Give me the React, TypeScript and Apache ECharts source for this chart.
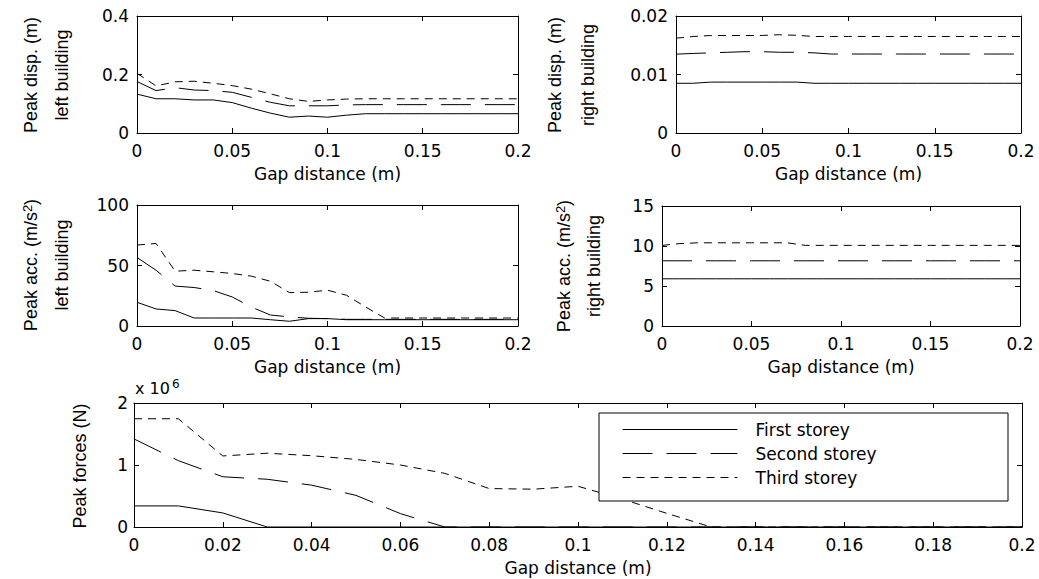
import React, { useEffect, useRef } from "react";
import * as echarts from "echarts";

// Gap distance (m)
const gap = [0, 0.01, 0.02, 0.03, 0.04, 0.05, 0.06, 0.07, 0.08, 0.09, 0.1, 0.11, 0.12, 0.13, 0.14, 0.15, 0.16, 0.17, 0.18, 0.19, 0.2];

const storeyNames = ["First storey", "Second storey", "Third storey"];

// Peak displacement, left building (m)
const dispLeft1 = [0.133, 0.117, 0.117, 0.113, 0.113, 0.104, 0.085, 0.068, 0.054, 0.058, 0.054, 0.061, 0.066, 0.066, 0.066, 0.066, 0.066, 0.066, 0.066, 0.066, 0.066];
const dispLeft2 = [0.176, 0.145, 0.155, 0.147, 0.145, 0.139, 0.122, 0.105, 0.093, 0.093, 0.093, 0.096, 0.097, 0.097, 0.097, 0.097, 0.097, 0.097, 0.097, 0.097, 0.097];
const dispLeft3 = [0.204, 0.161, 0.175, 0.177, 0.17, 0.162, 0.15, 0.134, 0.117, 0.108, 0.113, 0.116, 0.117, 0.117, 0.117, 0.117, 0.117, 0.117, 0.117, 0.117, 0.117];

// Peak displacement, right building (m)
const dispRight1 = [0.0085, 0.0085, 0.0087, 0.0087, 0.0087, 0.0087, 0.0087, 0.0087, 0.0085, 0.0085, 0.0085, 0.0085, 0.0085, 0.0085, 0.0085, 0.0085, 0.0085, 0.0085, 0.0085, 0.0085, 0.0085];
const dispRight2 = [0.01348, 0.0136, 0.0137, 0.0138, 0.0139, 0.0139, 0.0138, 0.0138, 0.0137, 0.0135, 0.0135, 0.0135, 0.0135, 0.0135, 0.0135, 0.0135, 0.0135, 0.0135, 0.0135, 0.0135, 0.0135];
const dispRight3 = [0.0162, 0.0165, 0.01666, 0.01666, 0.01666, 0.01668, 0.0168, 0.0167, 0.0165, 0.0165, 0.0165, 0.0165, 0.0165, 0.0165, 0.0165, 0.0165, 0.0165, 0.0165, 0.0165, 0.0165, 0.0165];

// Peak acceleration, left building (m/s^2)
const accLeft1 = [19.6, 14.1, 12.7, 6.6, 6.6, 6.6, 6.6, 5.2, 3.9, 6.1, 6.1, 5.2, 5.2, 5.2, 5.2, 5.2, 5.2, 5.2, 5.2, 5.2, 5.2];
const accLeft2 = [56.6, 46.1, 33, 31.8, 29.3, 24, 15.7, 9.1, 7.5, 6.4, 6.1, 5.5, 5.5, 5.5, 5.5, 5.5, 5.5, 5.5, 5.5, 5.5, 5.5];
const accLeft3 = [66.9, 68.2, 45.3, 46.1, 44.8, 43.4, 41.2, 37, 27.6, 27.9, 29.6, 25.4, 15.7, 6.6, 6.6, 6.6, 6.6, 6.6, 6.6, 6.6, 6.6];

// Peak acceleration, right building (m/s^2)
const accRight1 = [5.9, 5.9, 5.9, 5.9, 5.9, 5.9, 5.9, 5.9, 5.9, 5.9, 5.9, 5.9, 5.9, 5.9, 5.9, 5.9, 5.9, 5.9, 5.9, 5.9, 5.9];
const accRight2 = [8.15, 8.15, 8.15, 8.15, 8.15, 8.15, 8.15, 8.15, 8.15, 8.15, 8.15, 8.15, 8.15, 8.15, 8.15, 8.15, 8.15, 8.15, 8.15, 8.15, 8.15];
const accRight3 = [10.08, 10.3, 10.4, 10.4, 10.4, 10.4, 10.4, 10.4, 10.08, 10.08, 10.08, 10.08, 10.08, 10.08, 10.08, 10.08, 10.08, 10.08, 10.08, 10.08, 10.08];

// Peak pounding forces (N)
const force1 = [340000, 340000, 227000, 0, 0, 0, 0, 0, 0, 0, 0, 0, 0, 0, 0, 0, 0, 0, 0, 0, 0];
const force2 = [1420000, 1070000, 810000, 770000, 675000, 510000, 216000, 0, 0, 0, 0, 0, 0, 0, 0, 0, 0, 0, 0, 0, 0];
const force3 = [1746000, 1746000, 1146000, 1190000, 1150000, 1090000, 1000000, 865000, 620000, 610000, 657000, 450000, 220000, 0, 0, 0, 0, 0, 0, 0, 0];

const TICK_FONT = "DejaVu Sans";
const LABEL_FONT = "Liberation Sans";

const panels = [
  { grid: { left: 137, top: 16, width: 381, height: 117 }, xInterval: 0.05, yMax: 0.4, yInterval: 0.2, series: [dispLeft1, dispLeft2, dispLeft3], yFmt: null as any },
  { grid: { left: 676, top: 16, width: 345, height: 117 }, xInterval: 0.05, yMax: 0.02, yInterval: 0.01, series: [dispRight1, dispRight2, dispRight3], yFmt: null as any },
  { grid: { left: 137, top: 205, width: 381, height: 121 }, xInterval: 0.05, yMax: 100, yInterval: 50, series: [accLeft1, accLeft2, accLeft3], yFmt: null as any },
  { grid: { left: 662, top: 206, width: 358, height: 120 }, xInterval: 0.05, yMax: 15, yInterval: 5, series: [accRight1, accRight2, accRight3], yFmt: null as any },
  { grid: { left: 134, top: 403, width: 888, height: 124 }, xInterval: 0.02, yMax: 2000000, yInterval: 1000000, series: [force1, force2, force3], yFmt: (v: number) => String(v / 1000000) },
];

const lineTypes: any[] = ["solid", [30, 14], [8, 6]];

function buildOption() {
  const axisLine = { show: true, onZero: false, lineStyle: { color: "#000", width: 1 } };
  const axisTick = { show: true, inside: true, length: 5, lineStyle: { color: "#000", width: 1 } };
  const grid: any[] = [];
  const xAxis: any[] = [];
  const yAxis: any[] = [];
  const series: any[] = [];
  panels.forEach((p, i) => {
    grid.push({ ...p.grid, containLabel: false });
    xAxis.push({
      type: "value", gridIndex: i, position: "bottom", min: 0, max: 0.2, interval: p.xInterval,
      axisLine, axisTick, splitLine: { show: false },
      axisLabel: { color: "#000", fontFamily: TICK_FONT, fontSize: 17, margin: 9 },
      name: "Gap distance (m)", nameLocation: "middle", nameGap: 32,
      nameTextStyle: { color: "#000", fontFamily: TICK_FONT, fontSize: 17 },
    });
    xAxis.push({
      type: "value", gridIndex: i, position: "top", min: 0, max: 0.2, interval: p.xInterval,
      axisLine, axisTick, splitLine: { show: false }, axisLabel: { show: false },
    });
    yAxis.push({
      type: "value", gridIndex: i, position: "left", min: 0, max: p.yMax, interval: p.yInterval,
      axisLine, axisTick, splitLine: { show: false },
      axisLabel: { color: "#000", fontFamily: TICK_FONT, fontSize: 17, margin: i === 4 ? 6 : 8, formatter: p.yFmt || undefined },
    });
    yAxis.push({
      type: "value", gridIndex: i, position: "right", min: 0, max: p.yMax, interval: p.yInterval,
      axisLine, axisTick, splitLine: { show: false }, axisLabel: { show: false },
    });
    p.series.forEach((vals, k) => {
      series.push({
        type: "line", name: storeyNames[k], xAxisIndex: 2 * i, yAxisIndex: 2 * i,
        data: gap.map((x, j) => [x, vals[j]]),
        symbol: "none", silent: true,
        lineStyle: { color: "#000", width: 1, type: lineTypes[k] },
        itemStyle: { color: "#000" },
      });
    });
  });

  const rotLabel = (text: string, x: number, y: number, rich?: any) => ({
    type: "text", x, y, rotation: Math.PI / 2, z: 10,
    style: {
      text, fill: "#000", font: `18px '${LABEL_FONT}'`,
      fontFamily: LABEL_FONT, fontSize: 18,
      align: "center", verticalAlign: "middle", textAlign: "center", textVerticalAlign: "middle",
      rich,
    },
  });
  const supRich = {
    a: { fontFamily: LABEL_FONT, fontSize: 18, fill: "#000", color: "#000" },
    s: { fontFamily: LABEL_FONT, fontSize: 13, fill: "#000", color: "#000", verticalAlign: "top", padding: [0, 0, 8, 0] },
  };

  const graphic: any[] = [
    rotLabel("Peak disp. (m)", 31, 75),
    rotLabel("left building", 62, 75),
    rotLabel("Peak disp. (m)", 555, 75),
    rotLabel("right building", 588, 75),
    rotLabel("{a|Peak acc. (m/s}{s|2}{a|)}", 31, 265, supRich),
    rotLabel("left building", 62, 265),
    rotLabel("{a|Peak acc. (m/s}{s|2}{a|)}", 564, 266, supRich),
    rotLabel("right building", 594, 266),
    rotLabel("Peak forces (N)", 80, 466),
    {
      type: "text", x: 135, y: 388, z: 10,
      style: {
        text: "{a|x 10}{s|6}", fill: "#000", align: "left", verticalAlign: "middle", textAlign: "left", textVerticalAlign: "middle",
        rich: {
          a: { fontFamily: TICK_FONT, fontSize: 16, fill: "#000", color: "#000" },
          s: { fontFamily: TICK_FONT, fontSize: 12, fill: "#000", color: "#000", verticalAlign: "top", padding: [0, 0, 8, 2] },
        },
      },
    },
    {
      type: "rect", z: 50,
      shape: { x: 599, y: 413, width: 409, height: 88 },
      style: { fill: "#fff", stroke: "#000", lineWidth: 1 },
    },
  ];

  return {
    animation: false,
    backgroundColor: "#fff",
    grid,
    xAxis,
    yAxis,
    series,
    graphic: { elements: graphic },
    legend: {
      data: storeyNames,
      orient: "vertical",
      left: 622, top: 421,
      padding: 0,
      itemWidth: 115, itemHeight: 20, itemGap: 7,
      selectedMode: false,
      z: 60,
      backgroundColor: "transparent",
      itemStyle: { opacity: 0 },
      lineStyle: { color: "#000", width: 1 },
      textStyle: { color: "#000", fontFamily: TICK_FONT, fontSize: 17, padding: [0, 0, 0, 13] },
    },
  };
}

export default function App() {
  const ref = useRef<HTMLDivElement>(null);
  useEffect(() => {
    if (!ref.current) return;
    const chart = echarts.init(ref.current, undefined, { renderer: "svg" });
    chart.setOption(buildOption() as any);
    return () => chart.dispose();
  }, []);
  return <div ref={ref} style={{ position: "fixed", left: 0, top: 0, width: 1039, height: 579, background: "#fff" }} />;
}
